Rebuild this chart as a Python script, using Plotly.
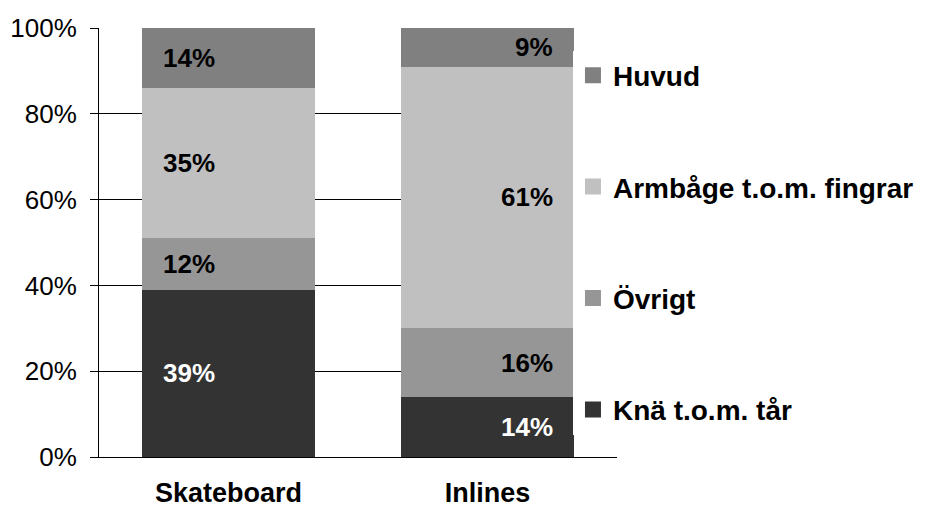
import plotly.graph_objects as go

categories = ["Skateboard", "Inlines"]
series_names = ["Knä t.o.m. tår", "Övrigt", "Armbåge t.o.m. fingrar", "Huvud"]
series_values = {
    "Knä t.o.m. tår": [39, 14],
    "Övrigt": [12, 16],
    "Armbåge t.o.m. fingrar": [35, 61],
    "Huvud": [14, 9],
}
series_colors = {
    "Knä t.o.m. tår": "#333333",
    "Övrigt": "#969696",
    "Armbåge t.o.m. fingrar": "#c0c0c0",
    "Huvud": "#808080",
}
label_colors = {
    "Knä t.o.m. tår": "white",
    "Övrigt": "black",
    "Armbåge t.o.m. fingrar": "black",
    "Huvud": "black",
}
y_ticks = [0, 20, 40, 60, 80, 100]
y_tick_labels = ["0%", "20%", "40%", "60%", "80%", "100%"]

FONT = "Liberation Sans, Arial, sans-serif"

fig = go.Figure()
n = len(series_names)
for i, name in enumerate(series_names):
    fig.add_trace(go.Bar(
        x=categories, y=series_values[name], name=name,
        marker=dict(color=series_colors[name], line=dict(width=0)),
        width=0.668, showlegend=False, hoverinfo="skip",
    ))
# legend entries (larger square symbols)
for i, name in enumerate(series_names):
    fig.add_trace(go.Scatter(
        x=[None], y=[None], mode="markers", name="<b>" + name + "</b>",
        marker=dict(symbol="square", size=18, color=series_colors[name],
                    line=dict(width=0)),
        legendgroup=str(i), legendrank=n - i, showlegend=True,
    ))

annotations = []
cum = [0] * len(categories)
for name in series_names:
    for j, cat in enumerate(categories):
        v = series_values[name][j]
        mid = cum[j] + v / 2
        cum[j] += v
        left = (j == 0)
        annotations.append(dict(
            x=cat, y=mid, xref="x", yref="y", text=f"<b>{v}%</b>", showarrow=False,
            xanchor="left" if left else "right",
            xshift=-67.5 if left else 67.5,
            font=dict(family=FONT, size=26, color=label_colors[name]),
        ))

fig.update_layout(
    width=930, height=507,
    margin=dict(l=91, r=321, t=20, b=58),
    paper_bgcolor="white", plot_bgcolor="white",
    barmode="stack", bargap=0,
    font=dict(family=FONT, color="black"),
    showlegend=True,
    legend=dict(
        x=0.915, y=0.5, xanchor="left", yanchor="middle",
        traceorder="grouped", tracegroupgap=72,
        bgcolor="white", borderwidth=0, itemsizing="trace",
        font=dict(family=FONT, size=28, color="black"),
    ),
    annotations=annotations,
)
fig.update_xaxes(
    showline=True, linecolor="black", linewidth=1,
    ticks="", showgrid=False, automargin=False,
    tickfont=dict(family=FONT, size=27, color="black"),
    ticktext=["<b>" + c + "</b>" for c in categories], tickvals=categories,
    range=[-0.5, 1.5], ticklabelstandoff=12,
)
fig.update_yaxes(
    range=[0, 100], tickvals=y_ticks, ticktext=y_tick_labels,
    showline=True, linecolor="black", linewidth=1,
    ticks="outside", ticklen=8, tickcolor="black",
    showgrid=True, gridcolor="black", gridwidth=1, zeroline=False,
    tickfont=dict(family=FONT, size=26, color="black"),
    ticklabelstandoff=8, automargin=False,
)

fig.write_html("out.html")
